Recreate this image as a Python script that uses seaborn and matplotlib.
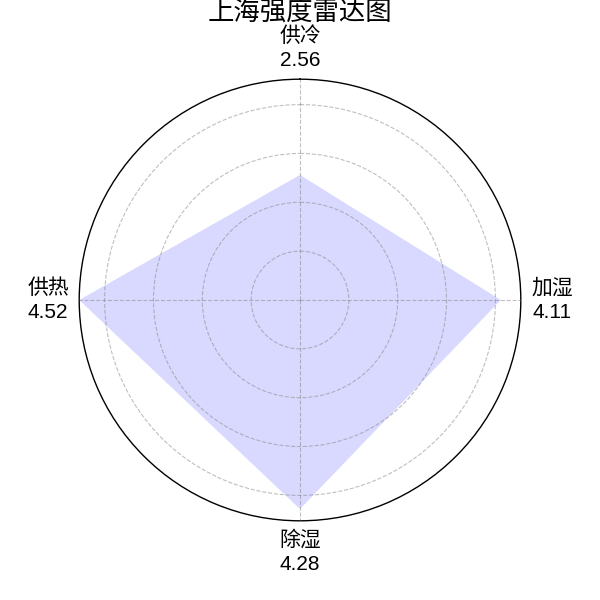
import numpy as np
import matplotlib
matplotlib.use("Agg")
import matplotlib.pyplot as plt
import seaborn as sns

# ------------------------------
# Data
# ------------------------------

categories = ["供冷", "加湿", "除湿", "供热"]
values = [2.56, 4.11, 4.28, 4.52]
title = "上海强度雷达图"

sns.set_style("white")
plt.rcParams['font.family'] = ['Liberation Sans', 'Noto Sans CJK SC', 'DejaVu Sans']
plt.rcParams['text.color'] = 'black'
plt.rcParams['xtick.color'] = 'black'

# ------------------------------
# Radar
# ------------------------------

angles = np.linspace(0, 2 * np.pi, len(categories), endpoint=False)
angles_closed = np.concatenate([angles, angles[:1]])
values_closed = values + values[:1]

fig = plt.figure(figsize=(6, 6), dpi=100)
ax = fig.add_axes([0.132, 0.132, 0.736, 0.736], polar=True)
ax.set_theta_offset(np.pi / 2)
ax.set_theta_direction(-1)

ax.fill(angles_closed, values_closed, color="blue", alpha=0.15, linewidth=0, zorder=1)

ax.set_ylim(0, max(values))
ax.set_yticks([1, 2, 3, 4])
ax.set_yticklabels([])
ax.set_xticks(angles)
labels = ax.set_xticklabels([f"{c}\n{v:.2f}" for c, v in zip(categories, values)],
                            fontsize=15, color="black")
for lab in labels:
    lab.set_linespacing(1.35)
ax.tick_params(axis="x", pad=12)
ax.grid(True, color="grey", linestyle="--", linewidth=0.8, alpha=0.5)
ax.set_axisbelow(False)
ax.spines["polar"].set_color("black")
ax.spines["polar"].set_linewidth(1)

fig.text(0.5, 1 - 12 / 600, title, ha="center", va="center", fontsize=19, color="black")

fig.savefig("out.png", dpi=100)
